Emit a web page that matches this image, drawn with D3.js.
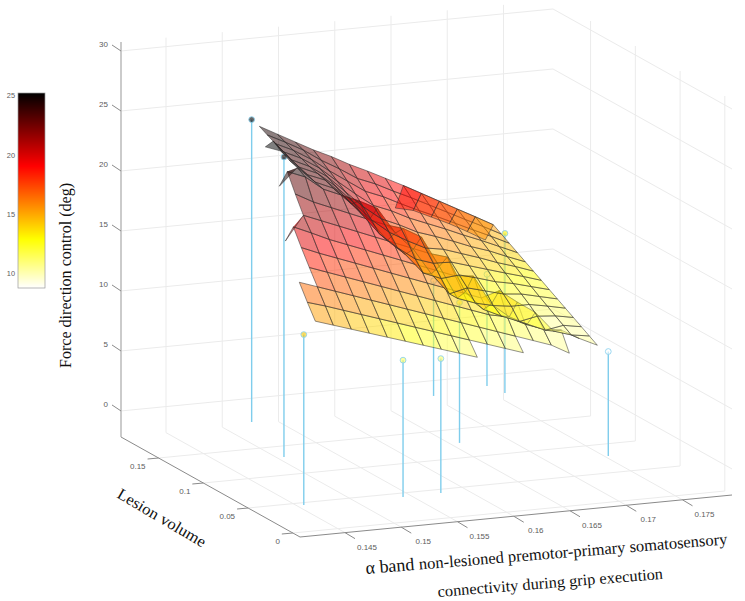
<!DOCTYPE html>
<html>
  <head>
    <meta charset="utf-8">
    <style>
      html, body { margin: 0; background: #fff; }
      text { font-family: "Liberation Sans", sans-serif; fill: #5c5c5c; font-size: 8px; }
      .title { font-family: "Liberation Serif", serif; fill: #111; }
      .grid { stroke: #ebebeb; stroke-width: 1; fill: none; }
      .axis { stroke: #8a8a8a; stroke-width: 1; fill: none; }
    </style>
  </head>
  <body>
    <script src="https://d3js.org/d3.v7.min.js"></script>
    <script>
    // ticks
    var xTicks = [0.145, 0.15, 0.155, 0.16, 0.165, 0.17, 0.175];
    var yTicks = [0, 0.05, 0.1, 0.15];
    var zTicks = [0, 5, 10, 15, 20, 25, 30];
    var barTicks = [10, 15, 20, 25];

    // observations (stems)
    var stemX = [0.1494, 0.1471, 0.1421, 0.1507, 0.1541, 0.1667, 0.1623, 0.1721, 0.1725, 0.1718];
    var stemY = [0.1516, 0.0866, 0.0016, -0.0012, -0.0007, 0.1658, 0.0815, 0.174, 0.159, 0.0347];
    var stemZ = [25.2, 25, 14.2, 11.4, 11.2, 9.6, 11.7, 9.3, 13.3, 8.7];

    // fitted surface, one list per xGrid value, indexed by yGrid
    var xGrid = [0.1430, 0.1446, 0.1462, 0.1478, 0.1494, 0.1510, 0.1526, 0.1542, 0.1558, 0.1574, 0.1590, 0.1606, 0.1622, 0.1638, 0.1654, 0.1670, 0.1686, 0.1702];
    var yGrid = [0, 0.0089, 0.0179, 0.0268, 0.0358, 0.0447, 0.0536, 0.0626, 0.0715, 0.0805, 0.0894, 0.0983, 0.1073, 0.1162, 0.1252, 0.1341, 0.1430, 0.1520];
    var zGrid = [
      [15.3, 16.5, 17.8],
      [14.82, 16.05, 17.28, 18.51, 19.8, 21.15, 19.6],
      [14.34, 15.55, 16.76, 17.97, 19.18, 20.5, 21.6, 23, 24.5, 22.9],
      [13.86, 15.05, 16.24, 17.43, 18.62, 19.81, 21, 22.19, 23.9, 24.3, 24.55, 24.9, 25.4, 24.55],
      [13.38, 14.55, 15.72, 16.89, 18.06, 19.23, 20.4, 21.57, 22.74, 22.95, 23.2, 23.45, 23.7, 24, 24.3, 24.65, 25],
      [12.9, 14.05, 15.2, 16.35, 17.5, 18.65, 19.8, 20.95, 22.1, 22.3, 22.6, 22.8, 23, 23.3, 23.6, 23.9, 24.2],
      [12.42, 13.55, 14.68, 15.81, 16.94, 18.07, 19.2, 20.33, 21.46, 20.85, 21.2, 21.6, 22, 22.35, 22.7, 23.1, 23.4],
      [11.94, 13.05, 14.16, 15.27, 16.38, 17.49, 18.6, 19.71, 20.7, 19.4, 19.5, 20.1, 20.6, 21.1, 21.6, 22.1, 22.6],
      [11.46, 12.55, 13.64, 14.73, 15.82, 16.91, 18, 19.25, 18.5, 17.5, 17.7, 18.5, 19.2, 19.9, 20.6, 21.25, 21.9],
      [10.98, 12.05, 13.12, 14.19, 15.26, 16.33, 17.4, 18.4, 17, 16.2, 16.4, 17.3, 18.05, 18.8, 19.6, 20.3, 21.1],
      [null, 11.55, 12.6, 13.65, 14.7, 15.75, 16.95, 15.8, 14.8, 14.5, 15.3, 16.45, 17.4, 18.2, 19, 19.7, 20.4],
      [null, 11.05, 12.08, 13.11, 14.14, 15.6, 13.9, 13, 13, 13.9, 14.8, 15.7, 16.65, 17.45, 18.25, 18.95, 19.65],
      [null, 10.55, 11.56, 12.8, 14.6, 13.1, 12.3, 12.45, 13.35, 14.05, 14.75, 15.45, 16.15, 16.85, 17.55, 18.25, 18.9, 16.65],
      [null, null, 11.04, 12.03, 13.5, 11.9, 11.6, 12.1, 12.95, 13.65, 14.3, 14.95, 15.6, 16.25, 16.9, 17.5, 18.1, 16.3],
      [null, null, 10.52, 11.49, 12.5, 11.15, 11, 11.9, 12.55, 13.2, 13.85, 14.45, 15, 15.6, 16.2, 16.75, 17.3, 15.6],
      [null, null, 9.7, 11.25, 10.8, 10.5, 11.3, 11.9, 12.4, 12.9, 13.4, 13.9, 14.5, 15, 15.5, 16, 16.5, 14.9],
      [null, null, null, 10.41, 10.33, 10.76, 11.18, 11.62, 12.05, 12.5, 12.97, 13.43, 13.88, 14.35, 14.82, 15.27, 15.71, 14.1],
      [null, null, null, 9.7, 10.1, 10.5, 10.9, 11.3, 11.7, 12.1, 12.5, 12.9, 13.3, 13.7, 14.1, 14.5, 14.9, 13.25]
    ];

    var width = 745, height = 601;
    var xLim = [0.141, 0.1794], yLim = [-0.008, 0.192], zLim = [-2.17, 30.75];

    var svg = d3.select("body").append("svg")
        .attr("width", width)
        .attr("height", height);

    // orthographic view: each data axis gets its own screen vector
    var xS = d3.scaleLinear().domain(xLim).range([0, 1]);
    var yS = d3.scaleLinear().domain(yLim).range([0, 1]);
    var zS = d3.scaleLinear().domain(zLim).range([0, 395]);
    var corner = [300, 537], xVec = [432, -42], yVec = [-179, -100];

    function project(x, y, z) {
      var u = xS(x), v = yS(y);
      return [corner[0] + u * xVec[0] + v * yVec[0],
              corner[1] + u * xVec[1] + v * yVec[1] - zS(z)];
    }

    // reversed "hot" colormap, same limits as the colorbar
    var cLim = [8.82, 25.25];
    var cSpan = cLim[1] - cLim[0];
    var color = d3.scaleLinear()
        .domain([cLim[0], cLim[0] + 0.25 * cSpan, cLim[0] + 0.625 * cSpan, cLim[1]])
        .range(["#ffffff", "#ffff00", "#ff0000", "#000000"])
        .clamp(true);

    var line = d3.line();

    function poly(g, pts, cls) {
      return g.append("path").attr("class", cls).attr("d", line(pts));
    }

    // grid lines on floor and the two back walls
    var grid = svg.append("g");
    xTicks.forEach(function(t) {
      poly(grid, [project(t, yLim[0], zLim[0]), project(t, yLim[1], zLim[0]), project(t, yLim[1], zLim[1])], "grid");
    });
    yTicks.forEach(function(t) {
      poly(grid, [project(xLim[0], t, zLim[0]), project(xLim[1], t, zLim[0]), project(xLim[1], t, zLim[1])], "grid");
    });
    zTicks.forEach(function(t) {
      poly(grid, [project(xLim[0], yLim[1], t), project(xLim[1], yLim[1], t), project(xLim[1], yLim[0], t)], "grid");
    });

    // axes
    var axes = svg.append("g");
    poly(axes, [project(xLim[0], yLim[0], zLim[0]), project(xLim[1], yLim[0], zLim[0])], "axis");
    poly(axes, [project(xLim[0], yLim[0], zLim[0]), project(xLim[0], yLim[1], zLim[0])], "axis");
    poly(axes, [project(xLim[0], yLim[1], zLim[0]), project(xLim[0], yLim[1], zLim[1])], "axis")
        .style("stroke", "#b5b5b5").style("stroke-width", 1.4);

    xTicks.forEach(function(t) {
      var p = project(t, yLim[0], zLim[0]);
      poly(axes, [p, [p[0] + 10, p[1] + 6]], "axis");
      axes.append("text").attr("x", p[0] + 22).attr("y", p[1] + 17)
          .attr("text-anchor", "middle").text(t);
    });
    yTicks.forEach(function(t) {
      var p = project(xLim[0], t, zLim[0]);
      poly(axes, [p, [p[0] - 11, p[1] + 1]], "axis");
      axes.append("text").attr("x", p[0] - 13).attr("y", p[1] + 11)
          .attr("text-anchor", "end").text(t);
    });
    zTicks.forEach(function(t) {
      var p = project(xLim[0], yLim[1], t);
      poly(axes, [p, [p[0] - 9, p[1] - 6]], "axis");
      axes.append("text").attr("x", p[0] - 13).attr("y", p[1] - 3.5)
          .attr("text-anchor", "end").text(t);
    });

    // stems sit behind the see-through surface
    var stems = svg.append("g");
    stemZ.forEach(function(z, k) {
      var base = project(stemX[k], stemY[k], 0), top = project(stemX[k], stemY[k], z);
      poly(stems, [base, top], "stem").style("stroke", "#7fcdec").style("stroke-width", 1.4);
      stems.append("circle")
          .attr("cx", top[0]).attr("cy", top[1]).attr("r", 2.9)
          .style("fill", color(z)).style("fill-opacity", 0.6)
          .style("stroke", "#8fd3ee").style("stroke-width", 0.9);
    });

    // surface cells; a cell folded on screen is filled as two triangles so its overlap doubles up
    var surf = svg.append("g");
    function val(i, j) {
      var col = zGrid[i];
      if (!col || col[j] === null || col[j] === undefined) return null;
      return col[j];
    }
    function area(a, b, c) {
      return (b[0] - a[0]) * (c[1] - a[1]) - (b[1] - a[1]) * (c[0] - a[0]);
    }
    function fillCell(pts, c) {
      surf.append("path").attr("d", line(pts) + "Z")
          .style("fill", c).style("fill-opacity", 0.5).style("stroke", "none");
    }
    for (var i = 0; i < xGrid.length - 1; i++) {
      for (var j = 0; j < yGrid.length - 1; j++) {
        var cell = [[i, j], [i + 1, j], [i + 1, j + 1], [i, j + 1]];
        if (cell.some(function(c) { return val(c[0], c[1]) === null; })) continue;
        var pts = cell.map(function(c) { return project(xGrid[c[0]], yGrid[c[1]], val(c[0], c[1])); });
        var c = color(val(i, j));
        if (area(pts[0], pts[1], pts[2]) * area(pts[0], pts[2], pts[3]) < 0) {
          fillCell([pts[0], pts[1], pts[2]], c);
          fillCell([pts[0], pts[2], pts[3]], c);
        } else {
          fillCell(pts, c);
        }
        surf.append("path").attr("d", line(pts) + "Z")
            .style("fill", "none")
            .style("stroke", "#2e2e2e")
            .style("stroke-opacity", 0.75)
            .style("stroke-width", 0.7);
      }
    }

    // colorbar
    var barY = d3.scaleLinear().domain(cLim).range([288, 93]);
    var bar = svg.append("g");
    bar.selectAll("rect").data(d3.range(93, 288)).enter().append("rect")
        .attr("x", 18).attr("width", 27)
        .attr("y", function(d) { return d; })
        .attr("height", 1)
        .style("fill", function(d) { return color(barY.invert(d + 0.5)); });
    bar.append("rect").attr("x", 18).attr("y", 93).attr("width", 27).attr("height", 195)
        .style("fill", "none").style("stroke", "#999").style("stroke-width", 0.7);
    barTicks.forEach(function(t) {
      bar.append("text").attr("x", 15).attr("y", barY(t) + 2.5)
          .attr("text-anchor", "end").style("font-size", "7.4px").text(t);
    });

    // titles
    svg.append("text").attr("class", "title")
        .attr("transform", "translate(71,368) rotate(-90)")
        .attr("textLength", 185).attr("lengthAdjust", "spacingAndGlyphs")
        .style("font-size", "16px").text("Force direction control (deg)");
    svg.append("text").attr("class", "title")
        .attr("transform", "translate(116,497) rotate(30.5)")
        .attr("textLength", 100).attr("lengthAdjust", "spacingAndGlyphs")
        .style("font-size", "16px").text("Lesion volume");
    var t1 = svg.append("text").attr("class", "title")
        .attr("transform", "translate(366,574) rotate(-4.7)");
    t1.append("tspan").style("font-size", "18px").text("\u03b1 band ");
    t1.append("tspan").style("font-size", "16.5px").text("non-lesioned premotor-primary somatosensory");
    svg.append("text").attr("class", "title")
        .attr("transform", "translate(438,597) rotate(-4.6)")
        .attr("textLength", 226).attr("lengthAdjust", "spacingAndGlyphs")
        .style("font-size", "16px").text("connectivity during grip execution");
    </script>
  </body>
</html>
